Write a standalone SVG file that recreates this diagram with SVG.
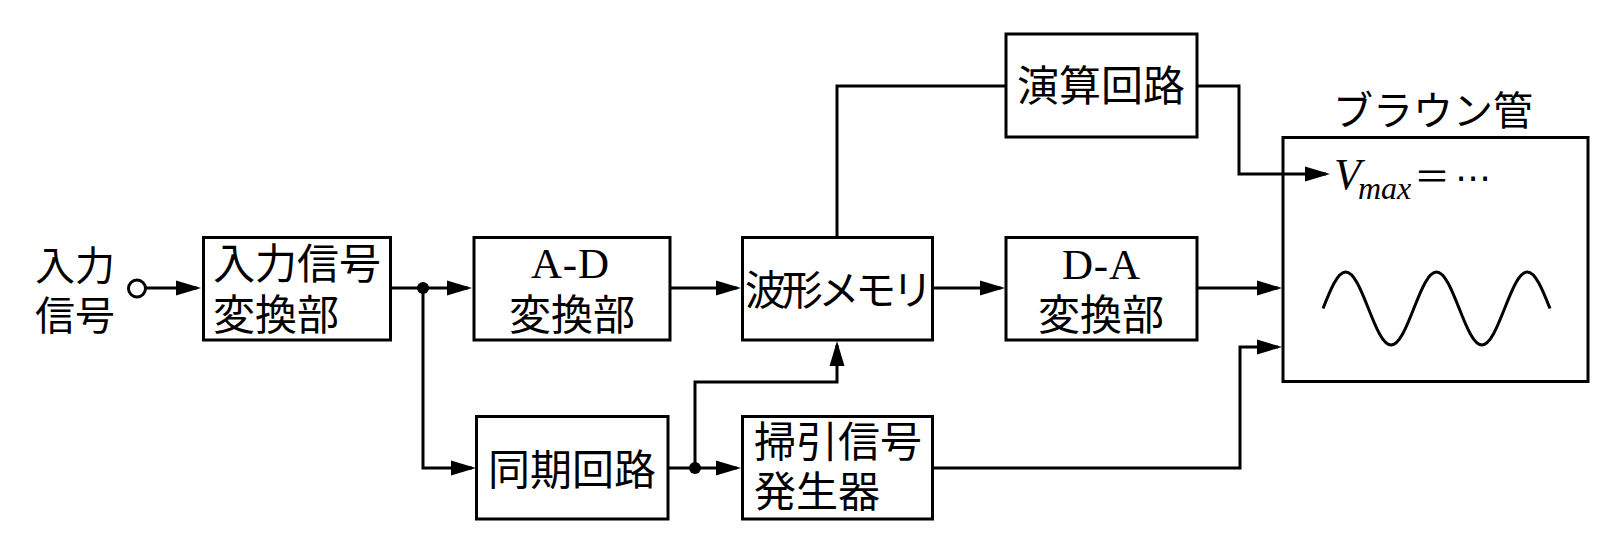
<svg xmlns="http://www.w3.org/2000/svg" width="1620" height="552" viewBox="0 0 1620 552">
<style>
.box{fill:#fff;stroke:#000;stroke-width:3}
.ln{fill:none;stroke:#000;stroke-width:3}
.jp{font-family:"Noto Sans CJK JP","Noto Sans CJK SC",sans-serif;font-size:42px;fill:#000}
.lat{font-family:"Liberation Serif","DejaVu Serif",serif;font-size:43px;fill:#000}
.c{text-anchor:middle}
</style>
<defs>
<marker id="arr" markerUnits="userSpaceOnUse" markerWidth="26" markerHeight="16" viewBox="0 0 26 16" refX="21" refY="8" orient="auto">
<path d="M0,0.5 L25,8 L0,15.5 z" fill="#000"/>
</marker>
</defs>
<rect width="1620" height="552" fill="#fff"/>

<g id="connectors">
<circle cx="137" cy="288.5" r="8.5" fill="#fff" stroke="#000" stroke-width="3"/>
<path class="ln" d="M145.5,288 H197" marker-end="url(#arr)"/>
<path class="ln" d="M390,288 H468" marker-end="url(#arr)"/>
<path class="ln" d="M423,288 V468 H472" marker-end="url(#arr)"/>
<circle cx="423" cy="288" r="6" fill="#000"/>
<path class="ln" d="M670,288 H737" marker-end="url(#arr)"/>
<path class="ln" d="M668,468 H737" marker-end="url(#arr)"/>
<path class="ln" d="M695,468 V382 H837 V345" marker-end="url(#arr)"/>
<circle cx="695" cy="468" r="6" fill="#000"/>
<path class="ln" d="M837,237 V86 H1006"/>
<path class="ln" d="M1197,86 H1239 V174 H1326" marker-end="url(#arr)"/>
<path class="ln" d="M932,288 H1001" marker-end="url(#arr)"/>
<path class="ln" d="M1197,288 H1278" marker-end="url(#arr)"/>
<path class="ln" d="M932,468 H1240 V347 H1278" marker-end="url(#arr)"/>
</g>

<g id="input-label">
<text class="jp" x="35" y="280" style="font-size:40px">入力</text>
<text class="jp" x="35" y="330" style="font-size:40px">信号</text>
</g>

<g id="input-converter">
<rect class="box" x="203.5" y="237.5" width="187" height="102.5"/>
<text class="jp" x="213" y="279">入力信号</text>
<text class="jp" x="213" y="330">変換部</text>
</g>

<g id="ad-converter">
<rect class="box" x="474" y="237.5" width="196" height="102.5"/>
<text class="lat" x="531" y="278" textLength="78">A-D</text>
<text class="jp c" x="572" y="330">変換部</text>
</g>

<g id="waveform-memory">
<rect class="box" x="742.5" y="237.5" width="190" height="102.5"/>
<text class="jp" x="745" y="305" style="font-size:41px" textLength="188">波形メモリ</text>
</g>

<g id="da-converter">
<rect class="box" x="1006" y="237.5" width="191" height="102.5"/>
<text class="lat" x="1062" y="279" textLength="78">D-A</text>
<text class="jp c" x="1101" y="330">変換部</text>
</g>

<g id="arithmetic-circuit">
<rect class="box" x="1006" y="34" width="191" height="103"/>
<text class="jp c" x="1101" y="101">演算回路</text>
</g>

<g id="sync-circuit">
<rect class="box" x="476.5" y="416.5" width="191.5" height="102.5"/>
<text class="jp c" x="572" y="485">同期回路</text>
</g>

<g id="sweep-generator">
<rect class="box" x="742.5" y="416.5" width="190" height="102.5"/>
<text class="jp" x="754" y="457">掃引信号</text>
<text class="jp" x="754" y="507">発生器</text>
</g>

<g id="crt">
<text class="jp" x="1333" y="125" style="font-size:40px">ブラウン管</text>
<rect class="box" x="1283" y="137.5" width="305" height="244" style="fill:none"/>
<text class="lat" x="1334" y="189"><tspan style="font-style:italic;font-size:44px">V</tspan><tspan x="1358" y="199" style="font-style:italic;font-size:32px">max</tspan><tspan x="1414" y="190" style="font-family:'Noto Sans CJK JP',sans-serif;font-size:36px">＝</tspan><tspan x="1455" y="190" style="font-family:'DejaVu Sans',sans-serif;font-size:36px">⋯</tspan></text>
<path class="ln" d="M1323,308.5 c7.4,-18.7 14.48,-36.5 22.7,-36.5 c8.22,0 15.3,17.8 22.7,36.5 c7.4,18.7 14.48,36.5 22.7,36.5 c8.22,0 15.3,-17.8 22.7,-36.5 c7.4,-18.7 14.48,-36.5 22.7,-36.5 c8.22,0 15.3,17.8 22.7,36.5 c7.4,18.7 14.48,36.5 22.7,36.5 c8.22,0 15.3,-17.8 22.7,-36.5 c7.4,-18.7 14.48,-36.5 22.7,-36.5 c8.22,0 15.3,17.8 22.7,36.5"/>
</g>
</svg>
